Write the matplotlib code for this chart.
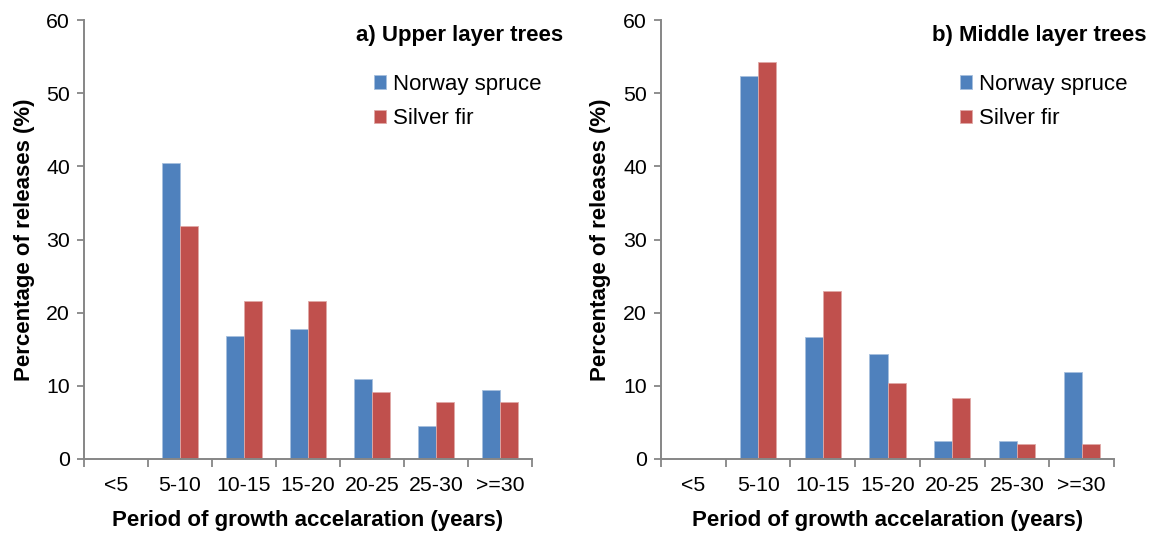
import matplotlib
matplotlib.use("Agg")
import matplotlib.pyplot as plt
import numpy as np

plt.rcParams["font.family"] = ["Liberation Sans", "DejaVu Sans"]

# Data
categories = ["<5", "5-10", "10-15", "15-20", "20-25", "25-30", ">=30"]
series_names = ["Norway spruce", "Silver fir"]

upper_spruce = [0, 40.5, 16.8, 17.8, 10.9, 4.5, 9.4]
upper_fir = [0, 31.9, 21.6, 21.6, 9.2, 7.8, 7.8]

middle_spruce = [0, 52.3, 16.7, 14.3, 2.4, 2.4, 11.9]
middle_fir = [0, 54.2, 22.9, 10.4, 8.3, 2.1, 2.1]

panel_titles = ["a) Upper layer trees", "b) Middle layer trees"]
y_label = "Percentage of releases (%)"
x_label = "Period of growth accelaration (years)"
y_ticks = [0, 10, 20, 30, 40, 50, 60]

colors = ["#4F81BD", "#C0504D"]
edge_colors = ["#A7C0DE", "#E0A9A7"]
axis_gray = "#868686"

W, H = 1151, 533
fig = plt.figure(figsize=(W / 100, H / 100), dpi=100)


def fx(x):
    return x / W


def fy(y):
    return 1 - y / H


panels = [
    dict(left=84, right=532, spruce=upper_spruce, fir=upper_fir,
         title_x=563, leg_x=374, ylab_x=35),
    dict(left=661, right=1114, spruce=middle_spruce, fir=middle_fir,
         title_x=1146, leg_x=960, ylab_x=611),
]

top_px, bottom_px = 20, 459
bar_w = 0.28
x = np.arange(len(categories))
tick_fs = 15.3
label_fs = 16

for i, p in enumerate(panels):
    ax = fig.add_axes([fx(p["left"]), fy(bottom_px),
                       fx(p["right"]) - fx(p["left"]), (bottom_px - top_px) / H])
    b1 = ax.bar(x - bar_w / 2, p["spruce"], bar_w, color=colors[0],
                edgecolor=edge_colors[0], linewidth=0.6, label=series_names[0])
    b2 = ax.bar(x + bar_w / 2, p["fir"], bar_w, color=colors[1],
                edgecolor=edge_colors[1], linewidth=0.6, label=series_names[1])

    ax.set_xlim(-0.5, len(categories) - 0.5)
    ax.set_ylim(0, 60)
    ax.set_yticks(y_ticks)
    ax.set_xticks(x)
    ax.set_xticklabels(categories)
    ax.set_xticks(np.arange(len(categories) + 1) - 0.5, minor=True)
    ax.tick_params(axis="x", which="major", length=0, pad=12, labelsize=tick_fs)
    ax.tick_params(axis="x", which="minor", length=5.5, width=1.3, color=axis_gray)
    ax.tick_params(axis="y", length=5, width=1.3, color=axis_gray, pad=5,
                   labelsize=tick_fs)

    for s in ["top", "right"]:
        ax.spines[s].set_visible(False)
    for s in ["left", "bottom"]:
        ax.spines[s].set_color(axis_gray)
        ax.spines[s].set_linewidth(1.4)

    ax.set_ylabel(y_label, fontsize=label_fs, fontweight="bold")
    ax.set_xlabel(x_label, fontsize=label_fs, fontweight="bold")
    width_px = p["right"] - p["left"]
    ax.yaxis.set_label_coords((p["ylab_x"] - p["left"]) / width_px, 0.5)
    ax.xaxis.set_label_coords(0.5, (bottom_px - 510) / (bottom_px - top_px))

    fig.text(fx(p["title_x"]), fy(35), panel_titles[i], ha="right", va="center",
             fontsize=label_fs, fontweight="bold")

    ax.legend(handles=[b1, b2], loc="upper left",
              bbox_to_anchor=(fx(p["leg_x"]), fy(74)), bbox_transform=fig.transFigure,
              frameon=False, fontsize=label_fs, handlelength=0.55, handleheight=0.55,
              handletextpad=0.3, labelspacing=0.6, borderpad=0, borderaxespad=0)

fig.savefig("out.png", dpi=100)
